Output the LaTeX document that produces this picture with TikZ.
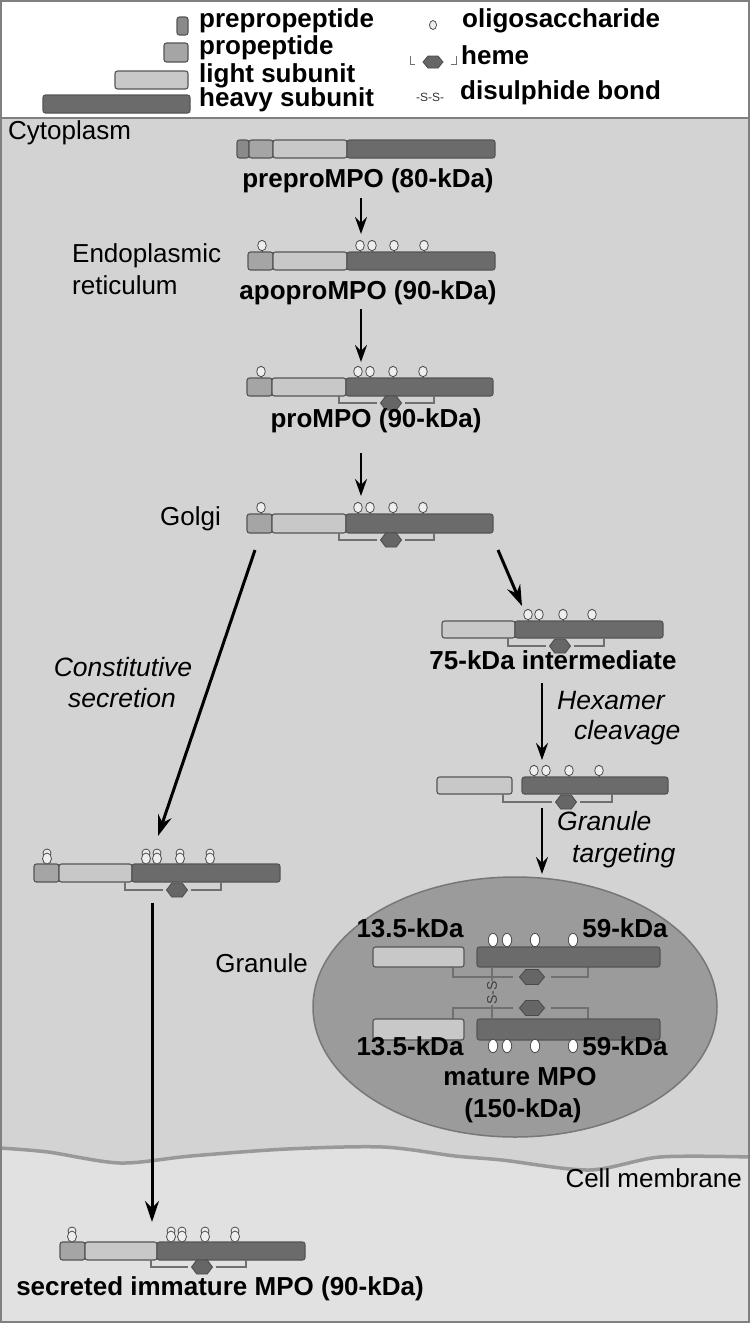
\documentclass[tikz,border=0pt]{standalone}
\usepackage{fontspec}
\setmainfont{Liberation Sans}
\usetikzlibrary{arrows.meta}
\definecolor{cPre}{HTML}{8A8A8A}
\definecolor{cPro}{HTML}{A5A5A5}
\definecolor{cLight}{HTML}{C8C8C8}
\definecolor{cHeavy}{HTML}{6B6B6B}
\definecolor{cEdge}{HTML}{555555}
\definecolor{cHex}{HTML}{666666}
\definecolor{cHexE}{HTML}{4A4A4A}
\definecolor{cBr}{HTML}{707070}
\definecolor{cOl}{HTML}{EEEEEE}
\definecolor{cOlE}{HTML}{4D4D4D}
\definecolor{cCyto}{HTML}{D3D3D3}
\definecolor{cOut}{HTML}{E1E1E1}
\definecolor{cGran}{HTML}{9B9B9B}
\definecolor{cGranE}{HTML}{777777}
\definecolor{cMem}{HTML}{999999}
\definecolor{cFrame}{HTML}{808080}
\tikzset{
  seg/.style={draw=cEdge, line width=1.1pt, rounded corners=2.5pt},
  ppre/.style={seg, fill=cPre},
  ppro/.style={seg, fill=cPro},
  plight/.style={seg, fill=cLight},
  pheavy/.style={seg, fill=cHeavy},
  bracket/.style={draw=cBr, line width=1.4pt},
  hexs/.style={fill=cHex, draw=cHexE, line width=0.8pt},
  olg/.style={fill=cOl, draw=cOlE, line width=0.8pt},
  wolg/.style={fill=white, draw=cOlE, line width=0.8pt},
  flow/.style={-{Stealth[length=17pt,width=12pt,inset=6pt]}, line width=2.2pt},
  bigflow/.style={-{Stealth[length=21pt,width=14pt,inset=7pt]}, line width=3pt},
  lab/.style={font=\bfseries\fontsize{26}{30}\selectfont, inner sep=0pt, anchor=mid},
  reg/.style={font=\fontsize{26}{31}\selectfont, inner sep=0pt},
  itl/.style={font=\itshape\fontsize{26.5}{31}\selectfont, inner sep=0pt},
}
\newcommand\hexa[4]{\filldraw[hexs] ({#1-#3/2},#2) -- ({#1-#3/4},{#2-#4/2}) -- ({#1+#3/4},{#2-#4/2}) -- ({#1+#3/2},#2) -- ({#1+#3/4},{#2+#4/2}) -- ({#1-#3/4},{#2+#4/2}) -- cycle;}
\newcommand\hbr[5]{\draw[bracket] (#1,#3) -- (#1,#4) -- ({#5-14},#4); \draw[bracket] ({#5+14},#4) -- (#2,#4) -- (#2,#3); \hexa{#5}{#4}{21}{14}}
\newcommand\olig[2]{\draw[olg] (#1,#2) -- (#1,{#2-3}); \filldraw[olg] (#1,{#2-6.5}) ellipse (4.3 and 5.2);}
\newcommand\dolig[2]{\filldraw[olg] (#1,{#2-11}) ellipse (4 and 4); \filldraw[olg] (#1,{#2-5.5}) ellipse (4.5 and 5.5);}
\newcommand\golig[2]{\filldraw[wolg] (#1,#2) ellipse (4.7 and 6.7);}
\begin{document}
\begin{tikzpicture}[x=1pt,y=-1pt]
\useasboundingbox (0,0) rectangle (750,1323);
% backgrounds
\fill[white] (0,0) rectangle (750,118);
\fill[cCyto] (0,118) rectangle (750,1323);
\fill[cOut] plot[smooth] coordinates {(0,1148) (48,1152) (120,1163) (191,1156) (287,1149) (383,1147) (455,1156) (502,1160) (589,1170) (660,1157) (750,1157)} -- (750,1323) -- (0,1323) -- cycle;
\draw[cMem, line width=3.5pt] plot[smooth] coordinates {(0,1148) (48,1152) (120,1163) (191,1156) (287,1149) (383,1147) (455,1156) (502,1160) (589,1170) (660,1157) (750,1157)};
\draw[cFrame, line width=2pt] (0,118) -- (750,118);

% legend
\draw[ppre] (177,17) rectangle (188,35);
\draw[ppro] (164,43) rectangle (188,62);
\draw[plight] (115,71) rectangle (188,89);
\draw[pheavy] (43,95) rectangle (190,113);
\node[lab, anchor=mid west] (lgpre) at (199,25) {prepropeptide};
\node[lab, anchor=mid west] (lgpro) at (199,52) {propeptide};
\node[lab, anchor=mid west] (lglight) at (199,80) {light subunit};
\node[lab, anchor=mid west] (lgheavy) at (199,104) {heavy subunit};
\filldraw[olg] (433,25) ellipse (3.5 and 4.5);
\node[lab, anchor=mid west] (lgolig) at (462,25) {oligosaccharide};
\draw[bracket, line width=1pt] (410,56) -- (410,64) -- (415,64);
\draw[bracket, line width=1pt] (451,64) -- (456,64) -- (456,56);
\hexa{433}{62}{20}{12}
\node[lab, anchor=mid west] (lgheme) at (461,62) {heme};
\node[font=\fontsize{12}{14}\selectfont, inner sep=0pt, text=black!80] (lgss) at (430,97) {-S-S-};
\node[lab, anchor=mid west] (lgss2) at (460,97) {disulphide bond};

% region labels
\node[reg, anchor=mid west] (cyto) at (8,137) {Cytoplasm};
\node[reg, anchor=mid west] (er1) at (72,260) {Endoplasmic};
\node[reg, anchor=mid west] (er2) at (72,292) {reticulum};
\node[reg, anchor=mid west] (golgi) at (160,523) {Golgi};
\node[reg, anchor=mid east] (granlab) at (308,970) {Granule};
\node[reg, anchor=mid east] (memlab) at (742,1185) {Cell membrane};

% A preproMPO
\draw[ppre] (237,140) rectangle (249,158);
\draw[ppro] (249,140) rectangle (273,158);
\draw[plight] (273,140) rectangle (347,158);
\draw[pheavy] (347,140) rectangle (495,158);
\node[lab] (lA) at (368,185) {preproMPO (80-kDa)};

% B apoproMPO
\draw[ppro] (248,252) rectangle (273,270);
\draw[plight] (273,252) rectangle (347,270);
\draw[pheavy] (347,252) rectangle (495,270);
\olig{262}{252}\olig{360}{252}\olig{372}{252}\olig{394}{252}\olig{424}{252}
\node[lab] (lB) at (368,297) {apoproMPO (90-kDa)};

% C proMPO
\draw[ppro] (247,378) rectangle (272,396);
\draw[plight] (272,378) rectangle (346,396);
\draw[pheavy] (346,378) rectangle (493,396);
\olig{261}{378}\olig{358}{378}\olig{370}{378}\olig{393}{378}\olig{423}{378}
\hbr{339}{434}{396}{403}{391}
\node[lab] (lC) at (376,425) {proMPO (90-kDa)};

% D Golgi
\draw[ppro] (247,514) rectangle (272,533);
\draw[plight] (272,514) rectangle (346,533);
\draw[pheavy] (346,514) rectangle (493,533);
\olig{261}{514}\olig{358}{514}\olig{370}{514}\olig{393}{514}\olig{423}{514}
\hbr{339}{434}{533}{540}{391}

% E 75-kDa intermediate
\draw[plight] (442,621) rectangle (515,638);
\draw[pheavy] (515,621) rectangle (663,638);
\olig{528}{621}\olig{539}{621}\olig{563}{621}\olig{592}{621}
\hbr{508}{604}{638}{646}{560}
\node[lab] (lE) at (553,667) {75-kDa intermediate};
\node[itl, anchor=mid west] (hex1) at (557,707) {Hexamer};
\node[itl, anchor=mid west] (hex2) at (574,737) {cleavage};

% F after cleavage
\draw[plight] (437,777) rectangle (512,794);
\draw[pheavy] (522,777) rectangle (668,794);
\olig{534}{777}\olig{546}{777}\olig{569}{777}\olig{599}{777}
\hbr{503}{612}{794}{802}{566}
\node[itl, anchor=mid west] (gt1) at (557,828) {Granule};
\node[itl, anchor=mid west] (gt2) at (572,860) {targeting};

% Granule
\filldraw[fill=cGran, draw=cGranE, line width=1.5pt] (515,1007) ellipse (202 and 130);
\draw[bracket] (453,967) -- (453,977) -- (513,977);
\draw[bracket] (551,977) -- (588,977) -- (588,967);
\hexa{532}{977}{25}{15}
\draw[bracket] (453,1019) -- (453,1008) -- (513,1008);
\draw[bracket] (551,1008) -- (588,1008) -- (588,1019);
\hexa{532}{1008}{25}{15}
\draw[plight] (373,947) rectangle (464,967);
\draw[pheavy] (477,947) rectangle (660,967);
\draw[plight] (373,1019) rectangle (464,1040);
\draw[pheavy] (477,1019) rectangle (660,1040);
\golig{493}{940}\golig{507}{940}\golig{535}{940}\golig{573}{940}
\golig{493}{1046}\golig{507}{1046}\golig{535}{1046}\golig{573}{1046}
\coordinate (ssT) at (492,967);
\coordinate (ssB) at (492,1019);
\draw[bracket, line width=1.1pt] (ssT) -- (ssB);
\node[font=\fontsize{14}{16}\selectfont, fill=cGran, inner sep=0.5pt, rotate=90, text=black!75] (ss) at (492,993) {S-S};
\node[lab] (k1) at (410,935) {13.5-kDa};
\node[lab] (k2) at (625,935) {59-kDa};
\node[lab] (k3) at (410,1053) {13.5-kDa};
\node[lab] (k4) at (625,1053) {59-kDa};
\node[lab] (mat1) at (520,1083) {mature MPO};
\node[lab] (mat2) at (523,1115) {(150-kDa)};

% G left intermediate
\draw[ppro] (34,864) rectangle (59,882);
\draw[plight] (59,864) rectangle (132,882);
\draw[pheavy] (132,864) rectangle (280,882);
\dolig{47}{864}\dolig{146}{864}\dolig{157}{864}\dolig{180}{864}\dolig{210}{864}
\hbr{125}{221}{882}{890}{177}
\node[itl] (cs1) at (123,667) {Constitutive};
\node[itl] (cs2) at (122,698) {secretion};

% H secreted
\draw[ppro] (60,1242) rectangle (85,1260);
\draw[plight] (85,1242) rectangle (157,1260);
\draw[pheavy] (157,1242) rectangle (305,1260);
\dolig{72}{1242}\dolig{171}{1242}\dolig{182}{1242}\dolig{205}{1242}\dolig{235}{1242}
\hbr{151}{246}{1260}{1267}{202}
\node[lab] (lH) at (220,1293) {secreted immature MPO (90-kDa)};

% arrows
\coordinate (a1s) at (361,198); \coordinate (a1e) at (361,234);
\coordinate (a2s) at (361,309); \coordinate (a2e) at (361,362);
\coordinate (a3s) at (361,453); \coordinate (a3e) at (361,496);
\coordinate (a4s) at (255,550); \coordinate (a4e) at (158,836);
\coordinate (a5s) at (498,550); \coordinate (a5e) at (522,606);
\coordinate (a6s) at (542,683); \coordinate (a6e) at (542,760);
\coordinate (a7s) at (542,808); \coordinate (a7e) at (542,874);
\coordinate (a8s) at (152,903); \coordinate (a8e) at (152,1222);
\draw[flow] (a1s) -- (a1e);
\draw[flow] (a2s) -- (a2e);
\draw[flow] (a3s) -- (a3e);
\draw[bigflow] (a4s) -- (a4e);
\draw[bigflow] (a5s) -- (a5e);
\draw[flow] (a6s) -- (a6e);
\draw[flow] (a7s) -- (a7e);
\draw[bigflow] (a8s) -- (a8e);

% frame
\draw[cFrame, line width=2pt] (1,1) rectangle (749,1322);
\end{tikzpicture}
\end{document}
